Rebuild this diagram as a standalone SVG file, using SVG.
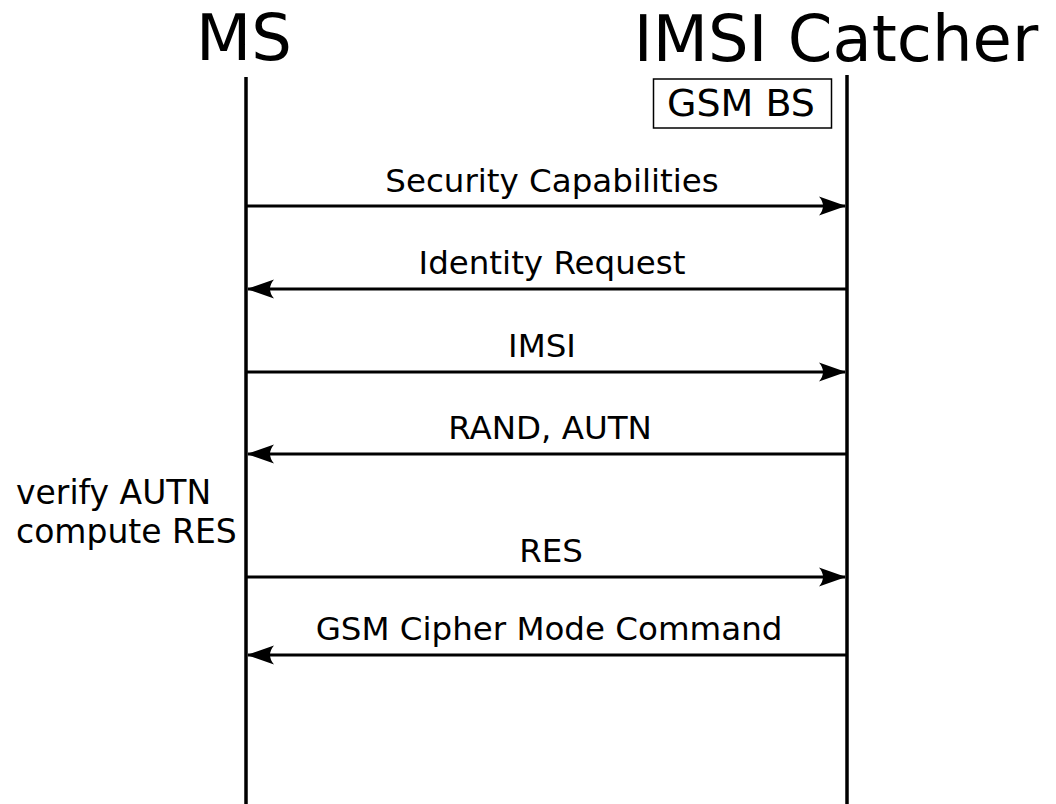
<svg xmlns="http://www.w3.org/2000/svg" width="1056" height="804" viewBox="0 0 1056 804">
  <style>
    text { font-family: "DejaVu Sans", "Liberation Sans", sans-serif; fill: #000; }
    .actor { font-size: 64px; text-anchor: middle; }
    .msg { font-size: 32.5px; text-anchor: middle; }
    .note { font-size: 33px; }
    .box-label { font-size: 38px; text-anchor: middle; }
    .lifeline { stroke: #000; stroke-width: 3.5; fill: none; }
    .arrow { stroke: #000; stroke-width: 3; fill: none; }
  </style>
  <defs>
    <marker id="head" markerUnits="userSpaceOnUse" markerWidth="32" markerHeight="22" refX="0" refY="0" viewBox="-29 -11 32 22" orient="auto">
      <path d="M1,0 L-26,-9.5 Q-18,0 -26,9.5 Z" fill="#000"/>
    </marker>
  </defs>

  <rect width="1056" height="804" fill="#fff"/>

  <g id="ms">
    <text class="actor" x="244" y="60">MS</text>
    <line class="lifeline" x1="246" y1="77" x2="246" y2="804"/>
  </g>

  <g id="imsi-catcher">
    <text class="actor" x="836" y="61">IMSI Catcher</text>
    <rect x="653.5" y="79" width="178" height="49" fill="none" stroke="#000" stroke-width="1.5"/>
    <text class="box-label" x="741" y="116">GSM BS</text>
    <line class="lifeline" x1="847" y1="75" x2="847" y2="804"/>
  </g>

  <g id="ms-note">
    <text class="note" x="16" y="504">verify AUTN</text>
    <text class="note" x="16" y="543">compute RES</text>
  </g>

  <g id="messages">
    <line class="arrow" x1="246" y1="206" x2="845" y2="206" marker-end="url(#head)"/>
    <text class="msg" x="552" y="192">Security Capabilities</text>

    <line class="arrow" x1="847" y1="289" x2="248" y2="289" marker-end="url(#head)"/>
    <text class="msg" x="552" y="274">Identity Request</text>

    <line class="arrow" x1="246" y1="372" x2="845" y2="372" marker-end="url(#head)"/>
    <text class="msg" x="542" y="357">IMSI</text>

    <line class="arrow" x1="847" y1="454" x2="248" y2="454" marker-end="url(#head)"/>
    <text class="msg" x="550" y="439">RAND, AUTN</text>

    <line class="arrow" x1="246" y1="577" x2="845" y2="577" marker-end="url(#head)"/>
    <text class="msg" x="551" y="562">RES</text>

    <line class="arrow" x1="847" y1="655" x2="248" y2="655" marker-end="url(#head)"/>
    <text class="msg" x="549" y="640">GSM Cipher Mode Command</text>
  </g>
</svg>
